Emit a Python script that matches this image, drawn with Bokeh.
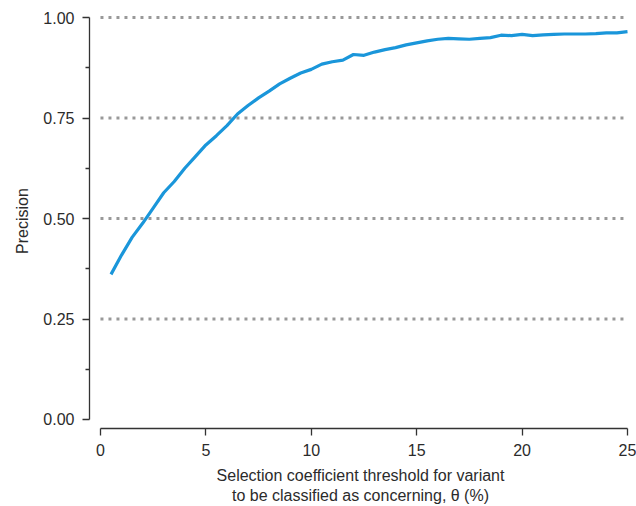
from bokeh.plotting import figure
from bokeh.models import Range1d, FixedTicker, NumeralTickFormatter, ColumnDataSource
from bokeh.embed import file_html
from bokeh.resources import INLINE

# Data
theta = [0.5, 1.0, 1.5, 2.0, 2.5, 3.0, 3.5, 4.0, 4.5, 5.0,
         5.5, 6.0, 6.5, 7.0, 7.5, 8.0, 8.5, 9.0, 9.5, 10.0,
         10.5, 11.0, 11.5, 12.0, 12.5, 13.0, 13.5, 14.0, 14.5, 15.0,
         15.5, 16.0, 16.5, 17.0, 17.5, 18.0, 18.5, 19.0, 19.5, 20.0,
         20.5, 21.0, 21.5, 22.0, 22.5, 23.0, 23.5, 24.0, 24.5, 25.0]
precision = [0.361, 0.409, 0.453, 0.488, 0.526, 0.564, 0.592, 0.625, 0.654, 0.683,
             0.706, 0.731, 0.760, 0.781, 0.800, 0.817, 0.835, 0.849, 0.862, 0.871,
             0.884, 0.890, 0.894, 0.908, 0.906, 0.914, 0.920, 0.925, 0.932, 0.937,
             0.942, 0.946, 0.948, 0.947, 0.946, 0.948, 0.950, 0.956, 0.955, 0.958,
             0.955, 0.957, 0.958, 0.959, 0.959, 0.959, 0.960, 0.962, 0.962, 0.965]

y_major_ticks = [0.0, 0.25, 0.5, 0.75, 1.0]
y_minor_ticks = [0.125, 0.375, 0.625, 0.875]
x_major_ticks = [0, 5, 10, 15, 20, 25]
grid_levels = [0.25, 0.5, 0.75, 1.0]
x_min, x_max = 0, 25

FONT = "Liberation Sans"
TEXT = "#2b2b2b"
AXIS = "#333333"

p = figure(width=636, height=506, output_backend="svg", toolbar_location=None,
           x_range=Range1d(-0.52, 25.19), y_range=Range1d(-0.0224, 1.0100),
           min_border_left=89, min_border_right=5, min_border_top=13, min_border_bottom=78)
p.outline_line_color = None
p.background_fill_color = "white"
p.border_fill_color = "white"
p.xgrid.visible = False
p.ygrid.visible = False

# dotted reference gridlines spanning the x-axis extent
for lvl in grid_levels:
    p.line(x=[x_min, x_max], y=[lvl, lvl],
           line_color="#999999", line_width=3, line_dash="3 5")

src = ColumnDataSource(dict(x=theta, y=precision))
p.line("x", "y", source=src, line_color="#1a96da", line_width=3.2, line_join="round")

for ax in (p.xaxis[0], p.yaxis[0]):
    ax.axis_line_color = AXIS
    ax.axis_line_width = 1.3
    ax.major_tick_line_color = AXIS
    ax.major_tick_line_width = 1.3
    ax.minor_tick_line_color = AXIS
    ax.minor_tick_line_width = 1.3
    ax.major_tick_in = 0
    ax.major_tick_out = 7
    ax.minor_tick_in = 0
    ax.minor_tick_out = 4
    ax.major_label_text_font = FONT
    ax.major_label_text_font_size = "16px"
    ax.major_label_text_color = TEXT
    ax.axis_label_text_font = FONT
    ax.axis_label_text_font_size = "16px"
    ax.axis_label_text_color = TEXT
    ax.axis_label_text_font_style = "normal"

p.yaxis.ticker = FixedTicker(ticks=y_major_ticks, minor_ticks=y_minor_ticks)
p.yaxis.formatter = NumeralTickFormatter(format="0.00")
p.yaxis.bounds = (0, 1)
p.yaxis.axis_label = "Precision"
p.yaxis.major_label_standoff = 8
p.yaxis.axis_label_standoff = 9

p.xaxis.ticker = FixedTicker(ticks=x_major_ticks, minor_ticks=[])
p.xaxis.bounds = (x_min, x_max)
p.xaxis.axis_label = "Selection coefficient threshold for variant\nto be classified as concerning, θ (%)"
p.xaxis.major_label_standoff = 8
p.xaxis.axis_label_standoff = 8

open("out.html", "w").write(file_html(p, INLINE))
